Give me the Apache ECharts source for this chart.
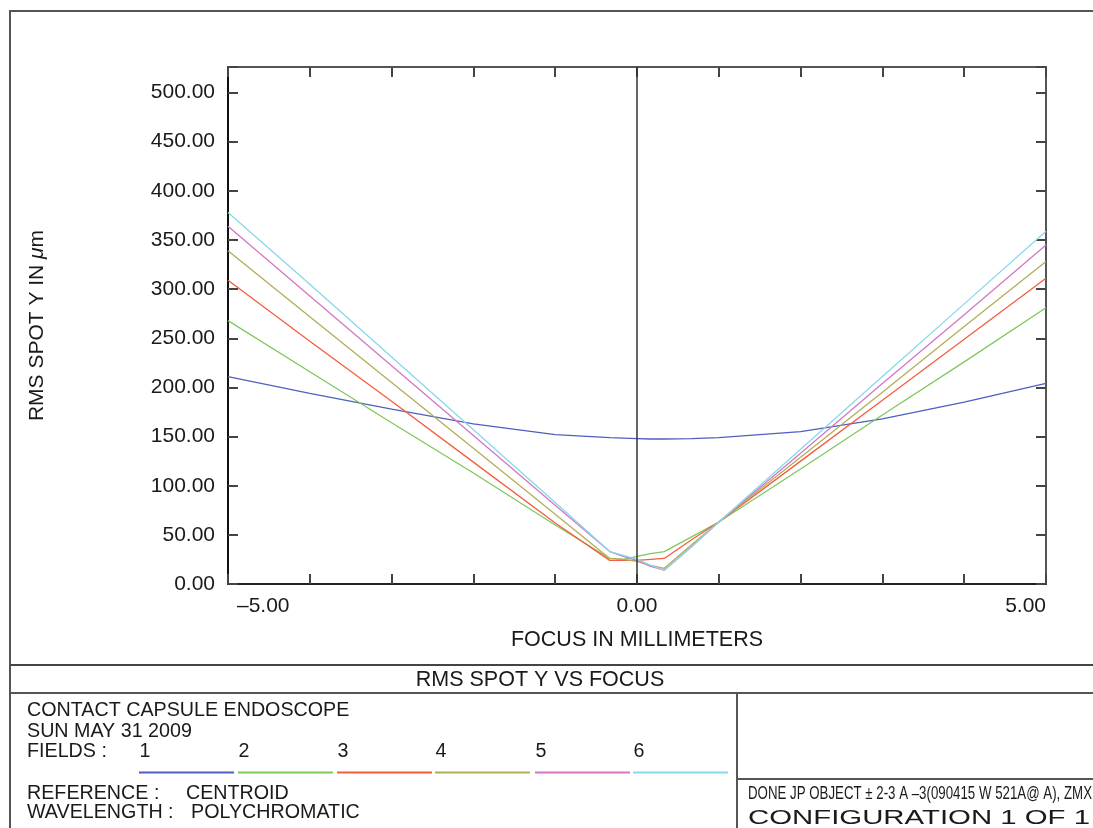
<!DOCTYPE html>
<html>
<head>
<meta charset="utf-8">
<script src="https://cdn.jsdelivr.net/npm/echarts@6/dist/echarts.min.js"></script>
<style>
html,body{margin:0;padding:0;background:#fff;}
#chart{width:1093px;height:828px;}
</style>
</head>
<body>
<div id="chart"></div>
<script>
// ---- data ----
var focus = [-5, -4, -3, -2, -1, -0.333, -0.167, 0, 0.167, 0.333, 0.667, 1, 2, 3, 4, 5];
var field1 = [211, 194, 178, 163, 152, 149, 148.5, 148, 147.5, 147.5, 148, 149, 155, 168, 185, 204];
var field2 = [268, 216, 164, 113, 60, 26, 25, 28, 31, 33, 48, 63, 117, 172, 226, 281];
var field3 = [309, 247, 186, 124, 62, 24, 24, 24, 25, 26, 45, 63, 125, 187, 249, 311];
var field4 = [339, 272, 205, 138, 71, 26, 25, 23, 19, 16, 40, 63, 129, 195, 262, 328];
var field5 = [364, 293, 222, 151, 80, 33, 28, 24, 18, 14, 38, 63, 133, 204, 274, 345];
var field6 = [378, 305, 231, 157, 83, 33, 29, 25, 19, 14, 38, 63, 137, 211, 285, 359];
var fieldNames = ['1', '2', '3', '4', '5', '6'];
var xTickLabels = ['–5.00', '0.00', '5.00'];
var colors = ['#4f5fbf', '#7fc85f', '#f45d3e', '#b3ad55', '#d277c4', '#87d8ec'];

var fields = [field1, field2, field3, field4, field5, field6];
var FONT = '"Liberation Sans", Arial, sans-serif';

function pairs(vals) {
  return focus.map(function (f, i) { return [f, vals[i]]; });
}

function measure(text, font) {
  var c = document.createElement('canvas').getContext('2d');
  c.font = font;
  return c.measureText(text).width;
}

var series = fields.map(function (vals, i) {
  var s = {
    name: fieldNames[i],
    type: 'line',
    data: pairs(vals),
    symbol: 'none',
    smooth: false,
    lineStyle: { color: colors[i], width: 1.3 },
    itemStyle: { color: colors[i] },
    z: 3
  };
  if (i === 0) {
    s.markLine = {
      silent: true,
      symbol: ['none', 'none'],
      label: { show: false },
      lineStyle: { color: '#333', width: 1.5, type: 'solid' },
      data: [{ xAxis: 0 }]
    };
  }
  return s;
});

var T = '#1a1a1a';
var graphics = [];
// outer frame
graphics.push({ type: 'rect', shape: { x: 10, y: 11, width: 1100, height: 840 }, style: { fill: 'none', stroke: '#555', lineWidth: 2 }, silent: true });
graphics.push({ type: 'line', shape: { x1: 10, y1: 665, x2: 1100, y2: 665 }, style: { stroke: '#444', lineWidth: 2 } });
graphics.push({ type: 'line', shape: { x1: 10, y1: 693, x2: 1100, y2: 693 }, style: { stroke: '#555', lineWidth: 2 } });
graphics.push({ type: 'line', shape: { x1: 737, y1: 693, x2: 737, y2: 840 }, style: { stroke: '#555', lineWidth: 2 } });
graphics.push({ type: 'line', shape: { x1: 737, y1: 779, x2: 1100, y2: 779 }, style: { stroke: '#555', lineWidth: 2 } });

function txt(x, y, text, size, opts) {
  opts = opts || {};
  var g = {
    type: 'text', x: x, y: y,
    style: { text: text, fill: T, font: size + 'px ' + FONT, textAlign: opts.align || 'left', textVerticalAlign: 'middle' }
  };
  if (opts.scaleX) { g.scaleX = opts.scaleX; }
  return g;
}

graphics.push(txt(540, 680.5, 'RMS SPOT Y VS FOCUS', 21.5, { align: 'center' }));
graphics.push(txt(27, 710.5, 'CONTACT CAPSULE ENDOSCOPE', 19.7));
graphics.push(txt(27, 731.5, 'SUN MAY 31 2009', 19.7));
graphics.push(txt(27, 752, 'FIELDS :', 19.7));
var legX = [139, 238, 337, 435, 535, 633];
fieldNames.forEach(function (n, i) {
  graphics.push(txt(legX[i] + 6, 752, n, 19.7, { align: 'center' }));
  graphics.push({ type: 'line', shape: { x1: legX[i], y1: 772.5, x2: legX[i] + 95, y2: 772.5 }, style: { stroke: colors[i], lineWidth: 2 } });
});
graphics.push(txt(27, 794, 'REFERENCE :', 19.7));
graphics.push(txt(186, 794, 'CENTROID', 19.7));
graphics.push(txt(27, 813, 'WAVELENGTH :', 19.7));
graphics.push(txt(191, 813, 'POLYCHROMATIC', 19.7));

var doneText = 'DONE JP OBJECT ± 2-3 A –3(090415 W 521A@ A), ZMX';
var doneW = measure(doneText, '18px ' + FONT);
graphics.push(txt(748, 794, doneText, 18, { scaleX: 344 / doneW }));
var cfgText = 'CONFIGURATION 1 OF 1';
var cfgW = measure(cfgText, '21px ' + FONT);
graphics.push(txt(748, 818, cfgText, 21, { scaleX: 342 / cfgW }));

var option = {
  animation: false,
  backgroundColor: '#fff',
  textStyle: { fontFamily: FONT },
  grid: { left: 228, top: 67, width: 818, height: 517, containLabel: false },
  xAxis: [{
    type: 'value', position: 'bottom', min: -5, max: 5, interval: 1,
    name: 'FOCUS IN MILLIMETERS', nameLocation: 'middle', nameGap: 45,
    nameTextStyle: { fontSize: 21.5, color: T, fontFamily: FONT },
    axisLine: { show: true, onZero: false, lineStyle: { color: '#222', width: 2 } },
    axisTick: { show: true, inside: true, length: 10, lineStyle: { color: '#444', width: 2 } },
    splitLine: { show: false },
    axisLabel: {
      show: true, margin: 12, fontSize: 21, color: T, fontFamily: FONT,
      alignMinLabel: 'left', alignMaxLabel: 'right', showMinLabel: true, showMaxLabel: true,
      formatter: function (v) {
        if (Math.abs(v + 5) < 1e-9) return '{l|' + xTickLabels[0] + '}';
        if (Math.abs(v) < 1e-9) return xTickLabels[1];
        if (Math.abs(v - 5) < 1e-9) return '{r|' + xTickLabels[2] + '}';
        return '';
      },
      rich: {
        l: { fontSize: 21, color: T, fontFamily: FONT, padding: [0, 0, 0, 9] },
        r: { fontSize: 21, color: T, fontFamily: FONT, padding: [0, 0, 0, 0] }
      }
    }
  }, {
    type: 'value', position: 'top', min: -5, max: 5, interval: 1,
    axisLine: { show: true, onZero: false, lineStyle: { color: '#555', width: 2 } },
    axisTick: { show: true, inside: true, length: 10, lineStyle: { color: '#444', width: 2 } },
    axisLabel: { show: false }, splitLine: { show: false }
  }],
  yAxis: [{
    type: 'value', position: 'left', min: 0, max: 526, interval: 50,
    name: 'RMS SPOT Y IN {i|μ}m', nameLocation: 'middle', nameGap: 180, nameRotate: 90,
    nameTextStyle: { fontSize: 21, color: T, fontFamily: FONT, rich: { i: { fontSize: 21, fontStyle: 'italic', color: T, fontFamily: FONT } } },
    axisLine: { show: true, onZero: false, lineStyle: { color: '#111', width: 2 } },
    axisTick: { show: true, inside: true, length: 10, lineStyle: { color: '#444', width: 2 } },
    splitLine: { show: false },
    axisLabel: {
      show: true, margin: 13, fontSize: 21, color: T, fontFamily: FONT, padding: [9, 0, 0, 0],
      formatter: function (v) { return (v % 50 === 0) ? v.toFixed(2) : ''; }
    }
  }, {
    type: 'value', position: 'right', min: 0, max: 526, interval: 50,
    axisLine: { show: true, onZero: false, lineStyle: { color: '#555', width: 2 } },
    axisTick: { show: true, inside: true, length: 10, lineStyle: { color: '#444', width: 2 } },
    axisLabel: { show: false }, splitLine: { show: false }
  }],
  series: series,
  graphic: { elements: graphics }
};

var chart = echarts.init(document.getElementById('chart'), null, { renderer: 'canvas' });
chart.setOption(option);
</script>
</body>
</html>
